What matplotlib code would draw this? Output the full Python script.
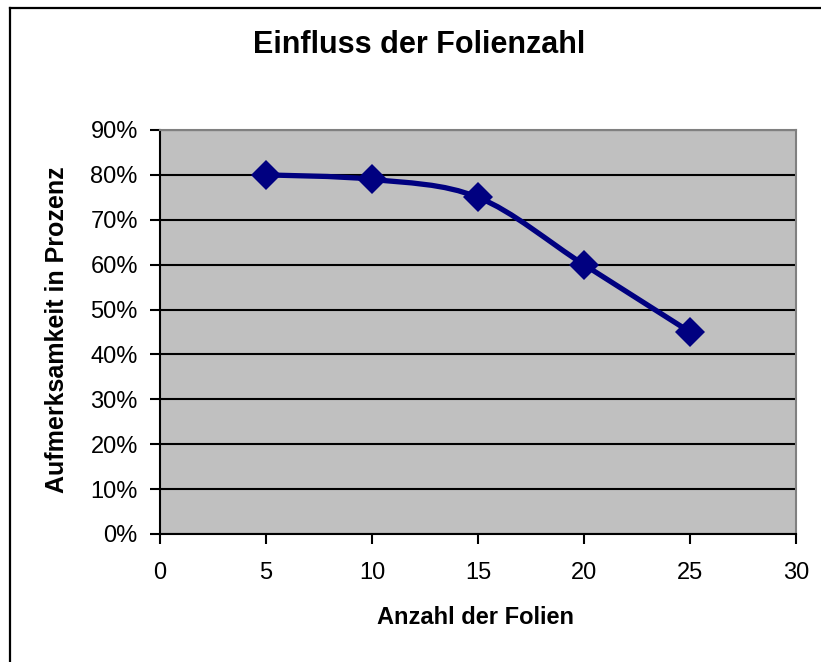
import matplotlib
matplotlib.use("Agg")
import matplotlib.pyplot as plt
from matplotlib.path import Path
from matplotlib.patches import PathPatch
from matplotlib.lines import Line2D
from matplotlib.ticker import FuncFormatter
import numpy as np

# --- data ---
folien = [5, 10, 15, 20, 25]
aufmerksamkeit = [0.80, 0.79, 0.75, 0.60, 0.45]
x_ticks = [0, 5, 10, 15, 20, 25, 30]
y_ticks = [0.0, 0.1, 0.2, 0.3, 0.4, 0.5, 0.6, 0.7, 0.8, 0.9]

title_text = "Einfluss der Folienzahl"
xlabel_text = "Anzahl der Folien"
ylabel_text = "Aufmerksamkeit in Prozenz"

NAVY = "#000080"

plt.rcParams['font.family'] = ['Liberation Sans', 'DejaVu Sans']


def smooth_path(xs, ys):
    # Excel style smoothed line: bezier segments through the points
    pts = np.column_stack([xs, ys]).astype(float)
    verts = [pts[0]]
    codes = [Path.MOVETO]
    n = len(pts)
    for i in range(n - 1):
        p0 = pts[i - 1] if i > 0 else pts[i]
        p1 = pts[i]
        p2 = pts[i + 1]
        p3 = pts[i + 2] if i + 2 < n else pts[i + 1]
        c1 = p1 + (p2 - p0) / 6.0
        c2 = p2 - (p3 - p1) / 6.0
        verts += [c1, c2, p2]
        codes += [Path.CURVE4] * 3
    return Path(verts, codes)


fig = plt.figure(figsize=(8.21, 6.62), dpi=100)
fig.patch.set_facecolor("white")

# outer chart border: only top and left edges are inside the picture
bx, by = 9.5 / 821, 1 - 7.5 / 662
fig.lines.append(Line2D([bx, 1.0], [by, by], transform=fig.transFigure,
                        color="black", linewidth=1.6))
fig.lines.append(Line2D([bx, bx], [0.0, by], transform=fig.transFigure,
                        color="black", linewidth=1.6))

ax = fig.add_axes([160 / 821, 128 / 662, 636 / 821, 404 / 662])
ax.set_facecolor("#C0C0C0")

ax.set_xlim(0, 30)
ax.set_ylim(0, 0.9)
ax.set_xticks(x_ticks)
ax.set_yticks(y_ticks)
ax.yaxis.set_major_formatter(FuncFormatter(lambda v, p: "%d%%" % round(v * 100)))

ax.grid(True, axis="y", color="black", linewidth=1.5)
ax.set_axisbelow(True)

for side in ("top", "right"):
    ax.spines[side].set_color("#808080")
    ax.spines[side].set_linewidth(1.5)
for side in ("left", "bottom"):
    ax.spines[side].set_color("black")
    ax.spines[side].set_linewidth(1.5)

ax.tick_params(axis="both", direction="out", length=7, width=1.5,
               labelsize=17, colors="black")
ax.tick_params(axis="x", pad=13)
ax.tick_params(axis="y", pad=9)

# smoothed series line + diamond markers
ax.add_patch(PathPatch(smooth_path(folien, aufmerksamkeit), facecolor="none",
                       edgecolor=NAVY, linewidth=3.8, zorder=3))
ax.plot(folien, aufmerksamkeit, linestyle="none", marker="D", markersize=15,
        color=NAVY, markeredgewidth=0, zorder=4, clip_on=False)

fig.text(419 / 821, 1 - 45 / 662, title_text, ha="center", va="center",
         fontsize=22, fontweight="bold")
fig.text(475 / 821, 1 - 618 / 662, xlabel_text, ha="center", va="center",
         fontsize=17, fontweight="bold")
fig.text(57 / 821, 1 - 330 / 662, ylabel_text, ha="center", va="center",
         rotation=90, fontsize=18, fontweight="bold")

fig.savefig("out.png", dpi=100)
